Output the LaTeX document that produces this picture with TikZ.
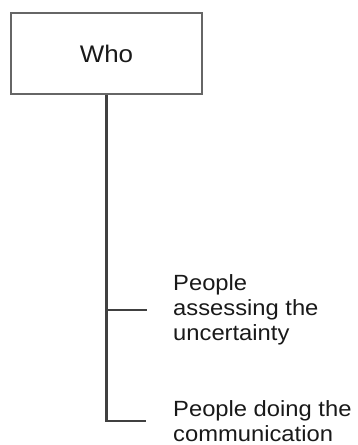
\documentclass[tikz,border=0pt]{standalone}
\usepackage{fontspec}
\newfontfamily\diagfont[FakeStretch=1.08]{Liberation Sans}
\usetikzlibrary{positioning}

\begin{document}
\begin{tikzpicture}[x=1pt, y=-1pt,
    whobox/.style={draw=black!60, line width=2.2pt, rectangle, minimum width=191pt, minimum height=81pt, inner sep=0pt, text=black!90, font=\diagfont\fontsize{24}{28}\selectfont},
    leaftext/.style={anchor=west, align=left, inner sep=0pt, text=black!90, font=\diagfont\fontsize{22}{25}\selectfont},
    branch/.style={draw=black!75, line width=2.2pt}]
  \useasboundingbox (0,0) rectangle (358,445);
  \node[whobox] (who) at (106.5,53.5) {Who};
  \node[leaftext] (assess) at (173,310) {People\\assessing the\\uncertainty};
  \node[leaftext] (comm) at (173,421) {People doing the\\communication};

  \draw[branch, shorten >=27pt] (who.south) |- (comm.west);
  \draw[branch, shorten >=26pt] (who.south |- assess.west) -- (assess.west);
\end{tikzpicture}
\end{document}
